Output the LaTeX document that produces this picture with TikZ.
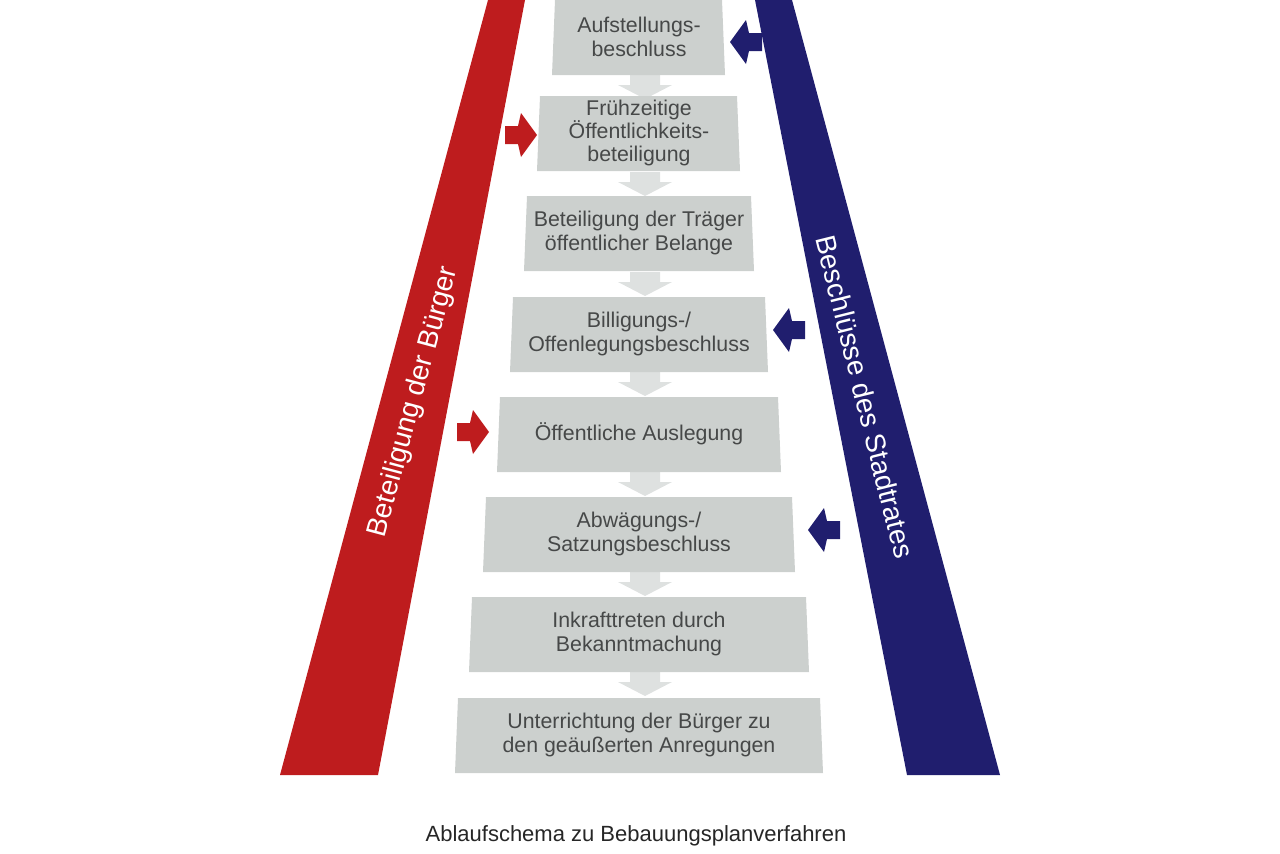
\documentclass[tikz,border=0pt]{standalone}
\usepackage{fontspec}
\setmainfont{Liberation Sans}
\begin{document}
\begin{tikzpicture}[x=0.75pt,y=-0.75pt,
  box/.style={fill=boxgray},
  txt/.style={text=txtgray,font=\fontsize{16}{17.5}\selectfont,align=center,inner sep=0pt},
  band/.style={text=white,font=\fontsize{21}{23}\selectfont,inner sep=0pt}]
\definecolor{boxgray}{RGB}{204,208,206}
\definecolor{arrgray}{RGB}{222,225,224}
\definecolor{txtgray}{RGB}{70,72,72}
\definecolor{bred}{RGB}{190,28,30}
\definecolor{bblue}{RGB}{32,30,110}
\useasboundingbox (0,0) rectangle (1280,853);
% bands
\fill[bred] (488,0) -- (525,0) -- (378,775) -- (280,775) -- cycle;
\fill[bblue] (755,0) -- (792,0) -- (1000,775) -- (907,775) -- cycle;
\node[band,rotate=75] (lb) at (414,402) {Beteiligung der Bürger};
\node[band,rotate=-76] (rb) at (865,397) {Beschlüsse des Stadtrates};
% gray connector arrows
\foreach \y in {75,172,272,372,472,572,672}{
  \fill[arrgray] (630,\y) -- (660,\y) -- (660,\y+10) -- (672,\y+10) -- (645,\y+24) -- (618,\y+10) -- (630,\y+10) -- cycle;
}
% boxes
\def\bx#1#2#3#4#5{\fill[box] (#2,#1) -- (#3,#1) -- (#3+3,#1+75) -- (#2-3,#1+75) -- cycle;
  \node[txt] (#4) at (639,#1+37) {#5};}
\bx{0}{555}{722}{b1}{Aufstellungs-\\beschluss}
\bx{96}{540}{737}{b2}{Frühzeitige\\Öffentlichkeits-\\beteiligung}
\bx{196}{527}{751}{b3}{Beteiligung der Träger\\öffentlicher Belange}
\bx{297}{513}{765}{b4}{Billigungs-/\\Offenlegungsbeschluss}
\bx{397}{500}{778}{b5}{Öffentliche Auslegung}
\bx{497}{486}{792}{b6}{Abwägungs-/\\Satzungsbeschluss}
\bx{597}{472}{806}{b7}{Inkrafttreten durch\\Bekanntmachung}
\bx{698}{458}{820}{b8}{Unterrichtung der Bürger zu\\den geäußerten Anregungen}
% side arrows
\def\ra#1#2{\fill[bred] (#1,#2-9) -- (#1+13,#2-9) -- (#1+16,#2-22) -- (#1+32,#2) -- (#1+16,#2+22) -- (#1+13,#2+9) -- (#1,#2+9) -- cycle;}
\def\la#1#2{\fill[bblue] (#1,#2-9) -- (#1-13,#2-9) -- (#1-16,#2-22) -- (#1-32,#2) -- (#1-16,#2+22) -- (#1-13,#2+9) -- (#1,#2+9) -- cycle;}
\ra{505}{135}
\ra{457}{432}
\la{762}{42}
\la{805}{330}
\la{840}{530}
\node[font=\fontsize{16.5}{18}\selectfont,text=black!85,inner sep=0pt] (cap) at (636,836) {Ablaufschema zu Bebauungsplanverfahren};
\end{tikzpicture}
\end{document}
